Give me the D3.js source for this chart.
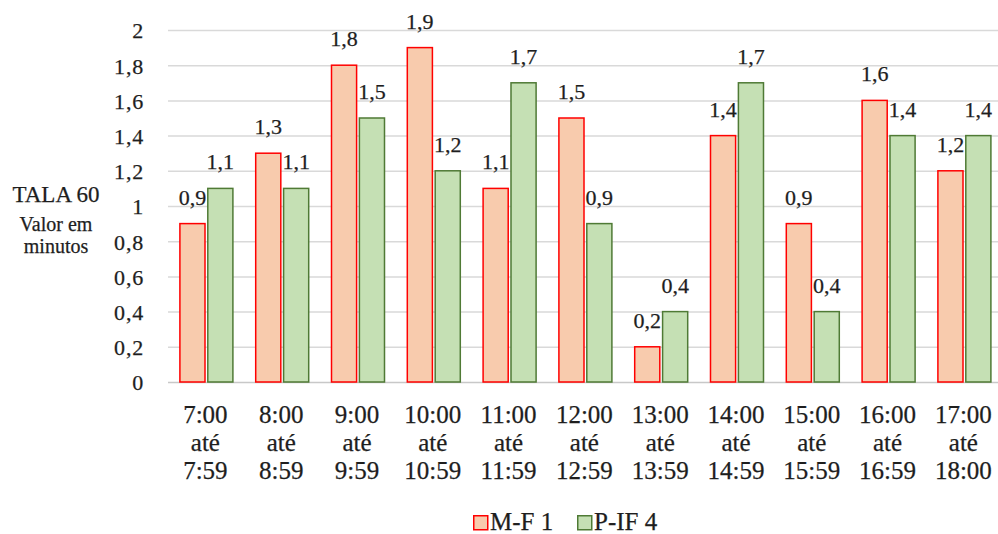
<!DOCTYPE html>
<html>
<head>
<meta charset="utf-8">
<script src="https://cdn.jsdelivr.net/npm/d3@7"></script>
<style>
  html, body { margin: 0; padding: 0; background: #fff; }
  svg { display: block; }
  svg text { stroke: #1e1e1e; stroke-width: 0.25px; }
</style>
</head>
<body>
<svg id="chart" width="998" height="534" font-family="Liberation Serif"></svg>
<script>
const categories = [
  ["7:00", "até", "7:59"],
  ["8:00", "até", "8:59"],
  ["9:00", "até", "9:59"],
  ["10:00", "até", "10:59"],
  ["11:00", "até", "11:59"],
  ["12:00", "até", "12:59"],
  ["13:00", "até", "13:59"],
  ["14:00", "até", "14:59"],
  ["15:00", "até", "15:59"],
  ["16:00", "até", "16:59"],
  ["17:00", "até", "18:00"]
];
const seriesNames = ["M-F 1", "P-IF 4"];
const mf1 = [0.9, 1.3, 1.8, 1.9, 1.1, 1.5, 0.2, 1.4, 0.9, 1.6, 1.2];
const pif4 = [1.1, 1.1, 1.5, 1.2, 1.7, 0.9, 0.4, 1.7, 0.4, 1.4, 1.4];
const yTicks = [0, 0.2, 0.4, 0.6, 0.8, 1, 1.2, 1.4, 1.6, 1.8, 2];
const yTitle = ["TALA 60", "Valor em", "minutos"];

const fills = ["#F8CBAD", "#C5E0B4"];
const strokes = ["#FF0000", "#4F7A35"];
const FONT = "Liberation Serif";
const TXT = "#1e1e1e";
const fmt = v => String(v).replace(".", ",");

const svg = d3.select("#chart");
const keys = categories.map((c, i) => i);
const x = d3.scaleBand().domain(keys).range([168.5, 1002.3]).padding(0);
const y = d3.scaleLinear().domain([0, 2]).range([382, 30]);
const xs = d3.scaleBand().domain([0, 1]).range([11.4, 64.4]).paddingInner(0.1);

// gridlines
svg.append("g").selectAll("line").data(yTicks).join("line")
  .attr("x1", 168).attr("x2", 998)
  .attr("y1", d => y(d) + 0.5).attr("y2", d => y(d) + 0.5)
  .attr("stroke", d => d === 0 ? "#c8c8c8" : "#d9d9d9").attr("stroke-width", 1.5);

// y tick labels via axis
const yAxis = d3.axisLeft(y).tickValues(yTicks).tickSize(0).tickPadding(0).tickFormat(fmt);
const gy = svg.append("g").attr("transform", "translate(144,0)").call(yAxis);
gy.attr("font-family", FONT).attr("font-size", 22);
gy.select(".domain").remove();
gy.selectAll("text").attr("font-family", FONT).attr("font-size", 22)
  .attr("fill", TXT).attr("letter-spacing", 0.8).attr("dy", "0.36em");

// y title
const titleSizes = [23, 20, 20];
const titleY = [202, 231, 253];
svg.append("g").selectAll("text").data(yTitle).join("text")
  .attr("x", 56).attr("y", (d, i) => titleY[i])
  .attr("text-anchor", "middle")
  .attr("font-family", FONT).attr("font-size", (d, i) => titleSizes[i])
  .attr("fill", TXT)
  .text(d => d);

// bars
const series = [mf1, pif4];
const groups = svg.append("g").selectAll("g").data(keys).join("g")
  .attr("transform", d => `translate(${x(d)},0)`);
series.forEach((vals, s) => {
  groups.append("rect")
    .attr("x", xs(s)).attr("width", xs.bandwidth())
    .attr("y", d => y(vals[d])).attr("height", d => y(0) - y(vals[d]))
    .attr("fill", fills[s]).attr("stroke", strokes[s]).attr("stroke-width", 1.5);
  groups.append("text")
    .attr("x", xs(s) + xs.bandwidth() / 2).attr("y", d => y(vals[d]) - 19)
    .attr("text-anchor", "middle")
    .attr("font-family", FONT).attr("font-size", 22).attr("fill", TXT)
    .text(d => fmt(vals[d]));
});

// x axis labels
const xl = svg.append("g").selectAll("text").data(keys).join("text")
  .attr("x", d => x(d) + x.bandwidth() / 2 - 1).attr("y", 423)
  .attr("text-anchor", "middle")
  .attr("font-family", FONT).attr("font-size", 25).attr("fill", TXT);
xl.selectAll("tspan").data(d => categories[d]).join("tspan")
  .attr("x", function() { return d3.select(this.parentNode).attr("x"); })
  .attr("dy", (d, i) => i === 0 ? 0 : 28)
  .text(d => d);

// legend
const legX = [473, 577];
const leg = svg.append("g").selectAll("g").data(seriesNames).join("g")
  .attr("transform", (d, i) => `translate(${legX[i]},515)`);
leg.append("rect").attr("x", 0.75).attr("y", 0.75).attr("width", 14).attr("height", 14)
  .attr("fill", (d, i) => fills[i]).attr("stroke", (d, i) => strokes[i]).attr("stroke-width", 1.5);
leg.append("text").attr("x", 17).attr("y", 15)
  .attr("font-family", FONT).attr("font-size", 25).attr("fill", TXT)
  .text(d => d);
</script>
</body>
</html>
